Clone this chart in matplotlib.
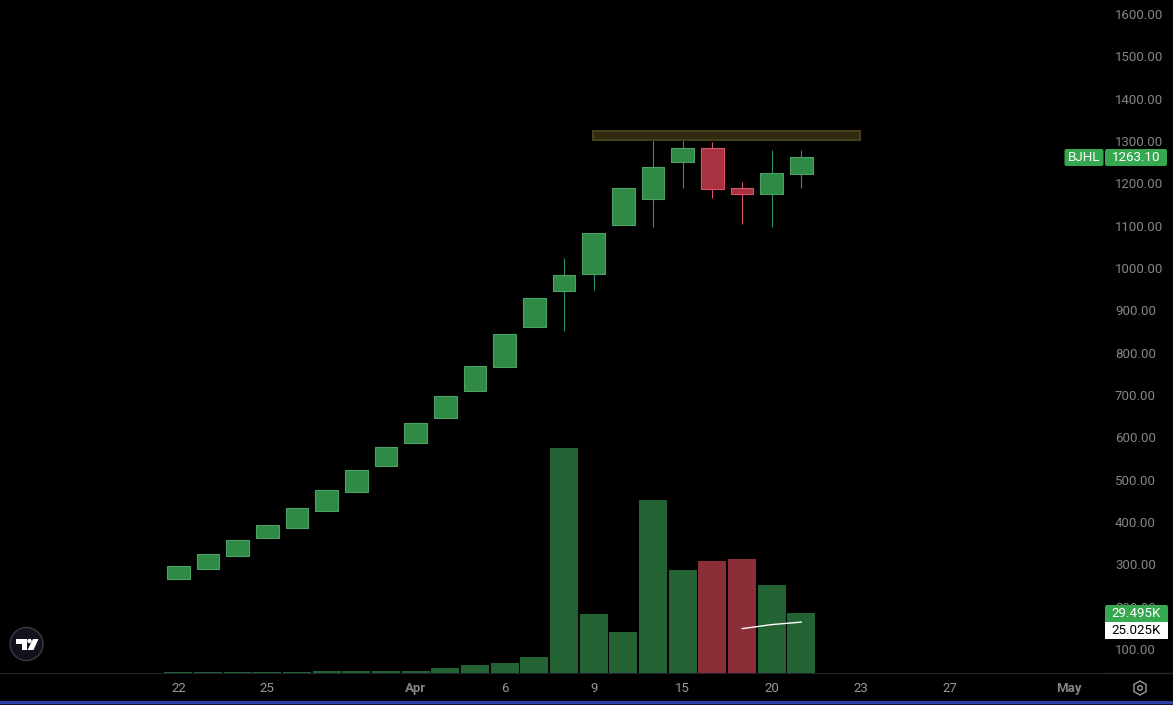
import matplotlib
matplotlib.use('Agg')
import matplotlib.pyplot as plt
from matplotlib.patches import Circle, FancyBboxPatch, Rectangle, Polygon, RegularPolygon

plt.rcParams['font.family'] = ['Roboto', 'DejaVu Sans']

# candles, values
opens  = [266.1, 289.7, 320.4, 362.9, 386.6, 426.7, 471.6, 533.0, 587.4, 646.4, 710.2,
          766.9, 861.4, 946.5, 986.6, 1102.4, 1163.8, 1251.2, 1283.6, 1189.0, 1175.6, 1222.9]
closes = [296.1, 323.7, 356.8, 392.2, 432.4, 474.9, 522.2, 576.5, 633.2, 697.0, 767.8,
          843.4, 929.2, 982.8, 1082.0, 1188.4, 1238.7, 1283.6, 1187.4, 1175.6, 1223.8, 1263.1]
highs  = [296.1, 323.7, 356.8, 392.2, 432.4, 474.9, 522.2, 576.5, 633.2, 697.0, 767.8,
          843.4, 929.2, 1023.7, 1082.0, 1188.4, 1304.8, 1307.0, 1297.8, 1203.2, 1278.8, 1278.8]
lows   = [266.1, 289.7, 320.4, 362.9, 386.6, 426.7, 471.6, 533.0, 587.4, 646.4, 710.2,
          766.9, 861.4, 852.0, 948.0, 1102.4, 1097.6, 1189.0, 1166.0, 1104.7, 1097.6, 1189.0]

# volume in K
volumes = [0.35, 0.35, 0.35, 0.35, 0.35, 0.85, 0.85, 0.85, 0.85, 2.5, 3.9,
           4.9, 7.9, 110.6, 29.0, 20.2, 85.0, 50.6, 55.0, 56.0, 43.3, 29.495]
vol_ma_idx = [19, 20, 21]
vol_ma = [21.8, 23.8, 25.025]

# drawn box over the highs
box_left, box_right = 13.97, 22.97
box_low, box_high = 1302.0, 1323.7

price_ticks = [100, 200, 300, 400, 500, 600, 700, 800, 900, 1000, 1100, 1200, 1300, 1400, 1500, 1600]
date_ticks = [0, 3, 8, 11, 14, 17, 20, 23, 26, 30]
date_labels = ['22', '25', 'Apr', '6', '9', '15', '20', '23', '27', 'May']

last_price = '1263.10'
last_vol = '29.495K'
last_vol_ma = '25.025K'

BLACK = '#000000'
GREY = '#858585'
GREEN_BODY, GREEN_EDGE, GREEN_WICK = '#2e8a45', '#4fa066', '#2a8f78'
RED_BODY, RED_EDGE, RED_WICK = '#a8323f', '#d9546a', '#d9546a'
GREEN_VOL, RED_VOL = '#236233', '#8c2e38'
TAG_GREEN = '#36a850'
LINE = '#24242e'

fig = plt.figure(figsize=(11.73, 7.05), dpi=100, facecolor=BLACK)
ax = fig.add_axes([0, 32 / 705, 1104 / 1173, 673 / 705], facecolor=BLACK)
ax.set_xlim(-6.01, 31.2)
ax.set_ylim(43.3, 1633.0)

ax_vol = ax.twinx()
ax_vol.set_ylim(0, 330.9)
ax_vol.axis('off')

# volume first, candles on top
idx = list(range(len(opens)))
vol_colors = [GREEN_VOL if c >= o else RED_VOL for o, c in zip(opens, closes)]
ax_vol.bar(idx, volumes, width=0.95, color=vol_colors, linewidth=0)
ax_vol.plot(vol_ma_idx, vol_ma, color='white', lw=1.0, solid_capstyle='round')

for i in idx:
    up = closes[i] >= opens[i]
    ax.vlines(i, lows[i], highs[i], color=GREEN_WICK if up else RED_WICK, lw=0.8, zorder=2)
    ax.bar(i, abs(closes[i] - opens[i]), bottom=min(opens[i], closes[i]), width=0.76,
           facecolor=GREEN_BODY if up else RED_BODY,
           edgecolor=GREEN_EDGE if up else RED_EDGE, linewidth=0.8, zorder=3)

ax.add_patch(Rectangle((box_left, box_low), box_right - box_left, box_high - box_low,
                       facecolor='#2f2a10', edgecolor='#464018', lw=1.5, zorder=4))

for side in ['top', 'left', 'right']:
    ax.spines[side].set_visible(False)
ax.spines['bottom'].set_color(LINE)

ax.yaxis.tick_right()
ax.set_yticks(price_ticks)
ax.set_yticklabels([f'{p}.00' for p in price_ticks], color=GREY, fontsize=9.5)
ax.tick_params(axis='y', length=0, pad=7.9)
ax.set_xticks(date_ticks)
ax.set_xticklabels(date_labels, color='#989898', fontsize=9.5)
ax.tick_params(axis='x', length=0, pad=6.5)
for lab in ax.get_xticklabels():
    if lab.get_text() in ('Apr', 'May'):
        lab.set_fontweight('bold')
        lab.set_color(GREY)

# overlay in pixel coords for the tags and icons
top = fig.add_axes([0, 0, 1, 1], facecolor='none')
top.set_xlim(0, 1173)
top.set_ylim(705, 0)
top.axis('off')


def tag(x, y, w, h, color):
    top.add_patch(FancyBboxPatch((x + 2, y + 2), w - 4, h - 4, boxstyle='round,pad=2,rounding_size=2',
                                 facecolor=color, edgecolor='none'))


top.plot([1104, 1173], [673, 673], color=LINE, lw=1)
top.add_patch(Rectangle((0, 701), 1173, 2.6, facecolor='#2c3fa6', edgecolor='none'))
top.add_patch(Rectangle((0, 703.6), 1173, 1.4, facecolor='#10173d', edgecolor='none'))

# the price and volume tags
tag(1064.5, 149, 39, 17, TAG_GREEN)
tag(1105, 149, 62, 17, TAG_GREEN)
top.text(1084, 157.7, 'BJHL', color='white', fontsize=9.6, ha='center', va='center')
top.text(1136, 157.7, last_price, color='white', fontsize=9.6, ha='center', va='center')
tag(1105, 605, 63, 18, TAG_GREEN)
top.add_patch(Rectangle((1105, 622), 63, 17, facecolor='white', edgecolor='none'))
top.text(1136.5, 613.7, last_vol, color='white', fontsize=9.6, ha='center', va='center')
top.text(1136.5, 630.7, last_vol_ma, color='black', fontsize=9.6, ha='center', va='center')

# tradingview badge
top.add_patch(Circle((26.5, 644), 16.5, facecolor='#12121c', edgecolor='#3c3c48', lw=1))
top.add_patch(Polygon([(16, 639), (27, 639), (27, 650), (22, 650), (22, 644), (16, 644)],
                      facecolor='white', edgecolor='none'))
top.add_patch(Circle((29.5, 641), 2.2, facecolor='white', edgecolor='none'))
top.add_patch(Polygon([(33, 639), (38.5, 639), (33.5, 650), (27.5, 650)],
                      facecolor='white', edgecolor='none'))

# settings icon
top.add_patch(RegularPolygon((1140, 688), 6, radius=7, facecolor='none', edgecolor='#9a9a9a', lw=1))
top.add_patch(Circle((1140, 688), 2.3, facecolor='none', edgecolor='#9a9a9a', lw=1))

fig.savefig('out.png', dpi=100, facecolor=BLACK)
